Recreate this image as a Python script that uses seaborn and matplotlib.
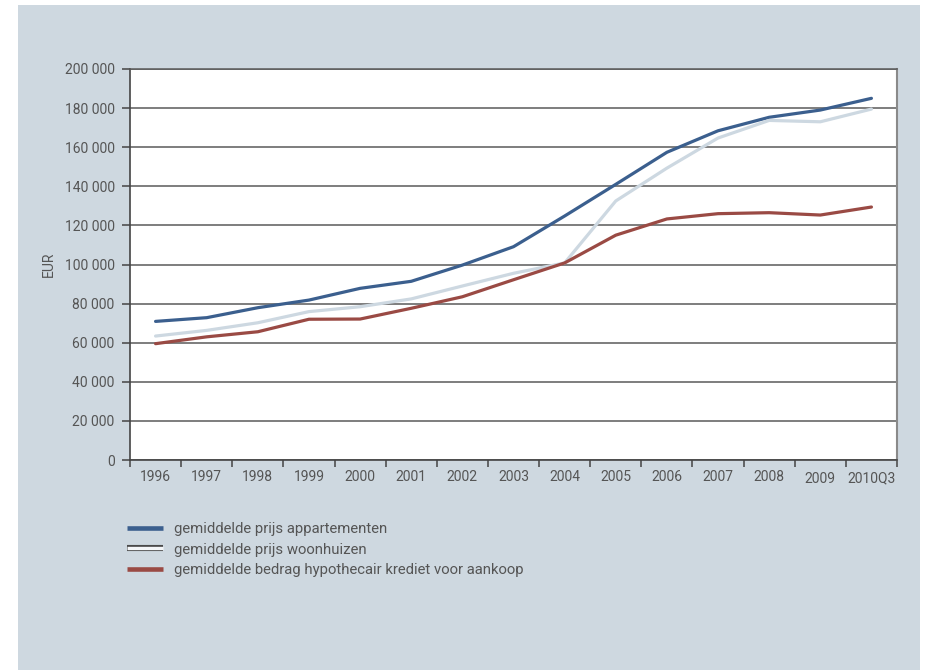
import matplotlib
matplotlib.use("Agg")
import matplotlib.pyplot as plt
import matplotlib.patheffects as pe
import matplotlib.transforms as mtransforms
from matplotlib.lines import Line2D
from matplotlib.patches import Rectangle
import numpy as np
import pandas as pd
import seaborn as sns

# Jaren (categorieën op de x-as)
jaren = ["1996", "1997", "1998", "1999", "2000", "2001", "2002", "2003",
         "2004", "2005", "2006", "2007", "2008", "2009", "2010Q3"]

# Gemiddelde prijzen en kredietbedragen (EUR)
appartementen = [70900, 72800, 77900, 81800, 87800, 91400, 99700, 109100,
                 124800, 141000, 157400, 168400, 175300, 179000, 185000]
woonhuizen = [63400, 66300, 70200, 75900, 78400, 82400, 89000, 95500,
              100800, 132500, 149300, 164700, 173700, 173000, 179500]
hypothecair_krediet = [59500, 63000, 65600, 72000, 72100, 77600, 83500, 92200,
                       100800, 115000, 123300, 126000, 126500, 125300, 129400]

reeks_labels = ["gemiddelde prijs appartementen",
                "gemiddelde prijs woonhuizen",
                "gemiddelde bedrag hypothecair krediet voor aankoop"]
kleuren = ["#3b5f8e", "#cdd8e1", "#9a4a44"]

df = pd.DataFrame({
    "jaar": jaren * 3,
    "EUR": appartementen + woonhuizen + hypothecair_krediet,
    "reeks": [reeks_labels[0]] * len(jaren) + [reeks_labels[1]] * len(jaren)
             + [reeks_labels[2]] * len(jaren),
})

sns.set_theme(style="white")
plt.rcParams["font.family"] = ["Roboto", "DejaVu Sans"]

tekst = "#555555"
paneel = "#ced8e0"

fig = plt.figure(figsize=(9.26, 6.70), dpi=100)
fig.patch.set_facecolor("white")
fig.patches.append(Rectangle((18 / 926, 0), (920 - 18) / 926, (670 - 5) / 670,
                             transform=fig.transFigure, facecolor=paneel,
                             edgecolor="none", zorder=-10))

ax = fig.add_axes([130 / 926, (670 - 460) / 670, (897 - 130) / 926, (460 - 69) / 670])
ax.set_zorder(2)
ax.set_facecolor("white")

sns.lineplot(data=df, x="jaar", y="EUR", hue="reeks", palette=kleuren,
             linewidth=2.3, ax=ax, legend=False, sort=False, zorder=3)

ax.set_xlim(-0.5, len(jaren) - 0.5)
ax.set_ylim(0, 200000)

# Y-as
yticks = np.arange(0, 200001, 20000)
ax.set_yticks(yticks)
ax.set_yticklabels([f"{v:,}".replace(",", " ") for v in yticks],
                   fontsize=10, color=tekst)
ax.yaxis.grid(True, color="#5a5a5a", linewidth=1.1, zorder=1)
ax.set_axisbelow(True)
ax.set_ylabel("EUR", fontsize=10, color=tekst)
ax.yaxis.set_label_coords(-0.097, 0.5)

# X-as: streepjes op de grenzen, labels in het midden
ax.set_xticks(np.arange(-0.5, len(jaren), 1.0))
ax.set_xticklabels([])
ax.set_xticks(np.arange(len(jaren)), minor=True)
ax.set_xticklabels(jaren, minor=True, fontsize=10, color=tekst)
ax.set_xlabel("")
ax.tick_params(axis="x", which="major", direction="out", length=5,
               width=1.1, color="#444444", bottom=True)
ax.tick_params(axis="x", which="minor", length=0, pad=7, bottom=True)
ax.tick_params(axis="y", direction="out", length=6, width=1.1,
               color="#444444", left=True, pad=5)

# de laatste twee jaarlabels staan iets lager
for lbl in ax.get_xticklabels(minor=True)[-2:]:
    lbl.set_transform(lbl.get_transform() +
                      mtransforms.ScaledTranslation(0, -2 / 100, fig.dpi_scale_trans))

for kant in ["left", "bottom"]:
    ax.spines[kant].set_color("#444444")
    ax.spines[kant].set_linewidth(1.2)
ax.spines["right"].set_color("#8a8a8a")
ax.spines["right"].set_linewidth(1.5)
ax.spines["top"].set_color("#5a5a5a")
ax.spines["top"].set_linewidth(1.1)

# Legenda onder de grafiek
handles = [
    Line2D([], [], color=kleuren[0], linewidth=3.3, solid_capstyle="butt"),
    Line2D([], [], color="#f4f6f8", linewidth=2.4, solid_capstyle="butt",
           path_effects=[pe.Stroke(linewidth=4.4, foreground="#4a4a4a"), pe.Normal()]),
    Line2D([], [], color=kleuren[2], linewidth=3.3, solid_capstyle="butt"),
]
leg = fig.legend(handles, reeks_labels, loc="upper left",
                 bbox_to_anchor=(127 / 926, (670 - 522) / 670),
                 frameon=False, fontsize=10.7, handlelength=2.45,
                 handletextpad=0.7, labelspacing=0.44, borderaxespad=0,
                 borderpad=0)
for t in leg.get_texts():
    t.set_color(tekst)

fig.savefig("out.png", dpi=100, facecolor=fig.get_facecolor())
